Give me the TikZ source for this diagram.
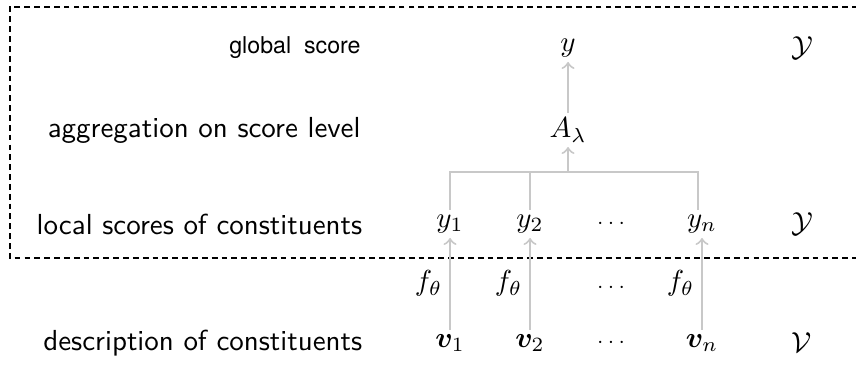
\documentclass[tikz,border=0pt]{standalone}
\usepackage{amsmath,amssymb,bm}
\usepackage{fontspec}
\newfontfamily\helv{TeX Gyre Heros}
\usepackage{tikz,xcolor}
\usetikzlibrary{arrows,calc}
\definecolor{linkgray}{RGB}{200,200,200}
\tikzset{
  rowlabel/.style={anchor=east,inner sep=0pt,font=\sffamily},
  link/.style={draw=linkgray,line width=0.7pt},
  uplink/.style={link,->},
  math/.style={inner sep=1.5pt},
  dotsnode/.style={font=\scriptsize}
}

\begin{document}
\begin{tikzpicture}
  \useasboundingbox (0,0) rectangle (10.383,4.464);
  \draw[dash pattern=on 2pt off 1.4pt,line width=0.4pt] (11,4.379) -- (0.121,4.379) -- (0.121,1.334) -- (11,1.334);
  \node[rowlabel,font=\helv\footnotesize] (lglobal) at (4.38,3.882) {global\ \ score};
  \node[rowlabel] (lagg) at (4.38,2.887) {aggregation on score level};
  \node[rowlabel] (llocal) at (4.40,1.747) {local scores of constituents};
  \node[rowlabel] (ldesc) at (4.40,0.303) {description of constituents};
  \node[math] (y) at (6.890,3.882) {$y$};
  \node[math] (A) at (6.890,2.887) {$A_\lambda$};
  \node[math] (y1) at (5.459,1.747) {$y_1$};
  \node[math] (y2) at (6.429,1.747) {$y_2$};
  \node[dotsnode] (ydots) at (7.436,1.747) {$\cdots$};
  \node[math] (yn) at (8.515,1.747) {$y_n$};
  \node[math] (v1) at (5.459,0.303) {$\bm{v}_1$};
  \node[math] (v2) at (6.429,0.303) {$\bm{v}_2$};
  \node[dotsnode] (vdots) at (7.436,0.303) {$\cdots$};
  \node[math] (vn) at (8.515,0.303) {$\bm{v}_n$};
  \node (Yglobal) at (9.728,3.882) {$\mathcal{Y}$};
  \node (Ylocal) at (9.728,1.747) {$\mathcal{Y}$};
  \node (V) at (9.728,0.303) {$\mathcal{V}$};
  \coordinate (bus) at (6.890,2.377);
  \coordinate (busn) at ($(yn.north)+(-0.05,0)$);
  \draw[link] (y1.north) |- (bus) -| (busn);
  \draw[link] (y2.north) -- (y2.north |- bus);
  \draw[uplink] (bus) -- (A.south);
  \draw[uplink] (A.north) -- (y.south);
  \draw[uplink] (v1.north) -- (y1.south) node[midway,left=-1pt,black] (f1) {$f_\theta$};
  \draw[uplink] (v2.north) -- (y2.south) node[midway,left=-1pt,black] (f2) {$f_\theta$};
  \draw[uplink] (vn.north) -- (yn.south) node[midway,left=-1pt,black] (fn) {$f_\theta$};
  \node[dotsnode] (fdots) at (7.436,0.970) {$\cdots$};
\end{tikzpicture}
\end{document}
